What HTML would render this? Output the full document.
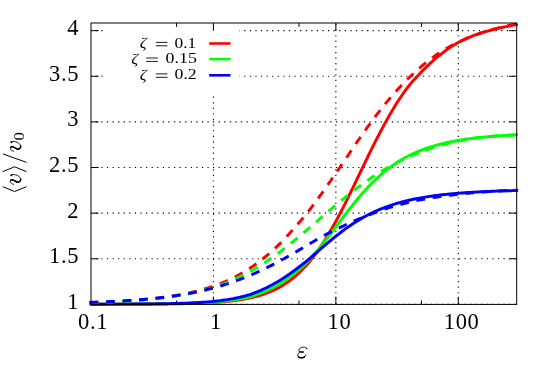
<!DOCTYPE html>
<html><head><meta charset="utf-8"><title>plot</title>
<style>html,body{margin:0;padding:0;background:#fff}svg{display:block;will-change:transform}text{font-family:"Liberation Serif",serif;fill:#000}</style>
</head><body>
<svg width="548" height="366" viewBox="0 0 548 366">
<rect width="548" height="366" fill="#fff"/>
<path d="M91.00,304.40 H516.70" stroke="#000" stroke-width="1.1" stroke-dasharray="1.2 4.386" stroke-dashoffset="0.85" fill="none"/>
<path d="M91.00,258.77 H516.70" stroke="#000" stroke-width="1.1" stroke-dasharray="1.2 4.386" stroke-dashoffset="0.85" fill="none"/>
<path d="M91.00,213.15 H516.70" stroke="#000" stroke-width="1.1" stroke-dasharray="1.2 4.386" stroke-dashoffset="0.85" fill="none"/>
<path d="M91.00,167.52 H516.70" stroke="#000" stroke-width="1.1" stroke-dasharray="1.2 4.386" stroke-dashoffset="0.85" fill="none"/>
<path d="M91.00,121.90 H516.70" stroke="#000" stroke-width="1.1" stroke-dasharray="1.2 4.386" stroke-dashoffset="0.85" fill="none"/>
<path d="M91.00,76.27 H104.00" stroke="#000" stroke-width="1.1" stroke-dasharray="1.2 4.386" stroke-dashoffset="0.85" fill="none"/>
<path d="M239.50,76.27 H516.70" stroke="#000" stroke-width="1.1" stroke-dasharray="1.2 4.386" stroke-dashoffset="0.85" fill="none"/>
<path d="M91.00,30.65 H104.00" stroke="#000" stroke-width="1.1" stroke-dasharray="1.2 4.386" stroke-dashoffset="0.85" fill="none"/>
<path d="M239.50,30.65 H516.70" stroke="#000" stroke-width="1.1" stroke-dasharray="1.2 4.386" stroke-dashoffset="0.85" fill="none"/>
<path d="M213.43,304.40 V95.50" stroke="#000" stroke-width="1.1" stroke-dasharray="1.2 4.386" stroke-dashoffset="0.1" fill="none"/>
<path d="M335.86,304.40 V23.00" stroke="#000" stroke-width="1.1" stroke-dasharray="1.2 4.386" stroke-dashoffset="0.1" fill="none"/>
<path d="M458.29,304.40 V23.00" stroke="#000" stroke-width="1.1" stroke-dasharray="1.2 4.386" stroke-dashoffset="0.1" fill="none"/>
<path d="M91.00,258.77 h7.70 M516.70,258.77 h-7.70 M91.00,213.15 h7.70 M516.70,213.15 h-7.70 M91.00,167.52 h7.70 M516.70,167.52 h-7.70 M91.00,121.90 h7.70 M516.70,121.90 h-7.70 M91.00,76.27 h7.70 M516.70,76.27 h-7.70 M91.00,30.65 h7.70 M516.70,30.65 h-7.70 M213.43,304.40 v-7.70 M213.43,23.00 v7.70 M335.86,304.40 v-7.70 M335.86,23.00 v7.70 M458.29,304.40 v-7.70 M458.29,23.00 v7.70 M176.57,304.40 v-3.90 M176.57,23.00 v3.90 M299.00,304.40 v-3.90 M299.00,23.00 v3.90 M421.43,304.40 v-3.90 M421.43,23.00 v3.90" stroke="#000" stroke-width="1" fill="none"/>
<path d="M91.00,304.18 L92.50,304.18 L94.00,304.18 L95.50,304.18 L97.00,304.18 L98.49,304.18 L99.99,304.18 L101.49,304.17 L102.99,304.17 L104.49,304.17 L105.99,304.17 L107.49,304.17 L108.99,304.17 L110.49,304.16 L111.99,304.16 L113.48,304.16 L114.98,304.16 L116.48,304.15 L117.98,304.15 L119.48,304.15 L120.98,304.15 L122.48,304.14 L123.98,304.14 L125.48,304.14 L126.97,304.13 L128.47,304.13 L129.97,304.12 L131.47,304.12 L132.97,304.11 L134.47,304.11 L135.97,304.10 L137.47,304.10 L138.97,304.09 L140.47,304.09 L141.96,304.08 L143.46,304.07 L144.96,304.07 L146.46,304.06 L147.96,304.05 L149.46,304.04 L150.96,304.03 L152.46,304.02 L153.96,304.01 L155.45,304.00 L156.95,303.99 L158.45,303.98 L159.95,303.97 L161.45,303.95 L162.95,303.94 L164.45,303.92 L165.95,303.91 L167.45,303.89 L168.95,303.87 L170.44,303.86 L171.94,303.84 L173.44,303.81 L174.94,303.79 L176.44,303.77 L177.94,303.74 L179.44,303.72 L180.94,303.69 L182.44,303.66 L183.93,303.63 L185.43,303.60 L186.93,303.57 L188.43,303.53 L189.93,303.49 L191.43,303.45 L192.93,303.41 L194.43,303.36 L195.93,303.32 L197.43,303.27 L198.92,303.21 L200.42,303.16 L201.92,303.10 L203.42,303.04 L204.92,302.97 L206.42,302.90 L207.92,302.83 L209.42,302.75 L210.92,302.67 L212.41,302.58 L213.91,302.49 L215.41,302.39 L216.91,302.29 L218.41,302.19 L219.91,302.07 L221.41,301.96 L222.91,301.83 L224.41,301.70 L225.90,301.56 L227.40,301.41 L228.90,301.26 L230.40,301.09 L231.90,300.92 L233.40,300.74 L234.90,300.55 L236.40,300.35 L237.90,300.14 L239.40,299.92 L240.89,299.68 L242.39,299.43 L243.89,299.17 L245.39,298.90 L246.89,298.61 L248.39,298.31 L249.89,297.99 L251.39,297.66 L252.89,297.31 L254.38,296.94 L255.88,296.55 L257.38,296.14 L258.88,295.71 L260.38,295.26 L261.88,294.79 L263.38,294.30 L264.88,293.78 L266.38,293.23 L267.88,292.66 L269.37,292.07 L270.87,291.44 L272.37,290.78 L273.87,290.10 L275.37,289.38 L276.87,288.63 L278.37,287.84 L279.87,287.02 L281.37,286.16 L282.86,285.26 L284.36,284.33 L285.86,283.35 L287.36,282.33 L288.86,281.27 L290.36,280.17 L291.86,279.01 L293.36,277.82 L294.86,276.57 L296.36,275.28 L297.85,273.93 L299.35,272.53 L300.85,271.09 L302.35,269.58 L303.85,268.03 L305.35,266.42 L306.85,264.75 L308.35,263.03 L309.85,261.25 L311.34,259.41 L312.84,257.51 L314.34,255.56 L315.84,253.55 L317.34,251.48 L318.84,249.35 L320.34,247.16 L321.84,244.92 L323.34,242.62 L324.84,240.26 L326.33,237.85 L327.83,235.38 L329.33,232.86 L330.83,230.29 L332.33,227.67 L333.83,225.00 L335.33,222.28 L336.83,219.52 L338.33,216.71 L339.82,213.86 L341.32,210.98 L342.82,208.06 L344.32,205.11 L345.82,202.12 L347.32,199.11 L348.82,196.07 L350.32,193.02 L351.82,189.94 L353.32,186.85 L354.81,183.74 L356.31,180.63 L357.81,177.51 L359.31,174.38 L360.81,171.26 L362.31,168.14 L363.81,165.03 L365.31,161.92 L366.81,158.83 L368.30,155.75 L369.80,152.69 L371.30,149.65 L372.80,146.63 L374.30,143.64 L375.80,140.67 L377.30,137.74 L378.80,134.84 L380.30,131.97 L381.80,129.14 L383.29,126.34 L384.79,123.58 L386.29,120.87 L387.79,118.19 L389.29,115.56 L390.79,112.98 L392.29,110.43 L393.79,107.94 L395.29,105.49 L396.78,103.09 L398.28,100.76 L399.78,98.48 L401.28,96.27 L402.78,94.11 L404.28,92.00 L405.78,89.95 L407.28,87.96 L408.78,86.01 L410.28,84.11 L411.77,82.31 L413.27,80.60 L414.77,78.96 L416.27,77.36 L417.77,75.78 L419.27,74.19 L420.77,72.59 L422.27,71.01 L423.77,69.47 L425.26,67.97 L426.76,66.50 L428.26,65.07 L429.76,63.68 L431.26,62.33 L432.76,61.00 L434.26,59.71 L435.76,58.45 L437.26,57.20 L438.75,55.96 L440.25,54.74 L441.75,53.55 L443.25,52.39 L444.75,51.26 L446.25,50.17 L447.75,49.11 L449.25,48.08 L450.75,47.07 L452.25,46.09 L453.74,45.15 L455.24,44.24 L456.74,43.37 L458.24,42.55 L459.74,41.77 L461.24,41.01 L462.74,40.27 L464.24,39.55 L465.74,38.86 L467.23,38.19 L468.73,37.54 L470.23,36.92 L471.73,36.31 L473.23,35.72 L474.73,35.15 L476.23,34.60 L477.73,34.07 L479.23,33.57 L480.73,33.08 L482.22,32.62 L483.72,32.17 L485.22,31.73 L486.72,31.30 L488.22,30.88 L489.72,30.47 L491.22,30.07 L492.72,29.68 L494.22,29.30 L495.71,28.93 L497.21,28.57 L498.71,28.22 L500.21,27.88 L501.71,27.54 L503.21,27.21 L504.71,26.89 L506.21,26.58 L507.71,26.27 L509.21,25.98 L510.70,25.70 L512.20,25.42 L513.70,25.15 L515.20,24.89 L516.70,24.64" fill="none" stroke="#ff0000" stroke-width="2.95" stroke-linejoin="round" stroke-linecap="round"/>
<path d="M91.00,304.18 L92.50,304.18 L94.00,304.18 L95.50,304.17 L97.00,304.17 L98.49,304.17 L99.99,304.17 L101.49,304.17 L102.99,304.17 L104.49,304.16 L105.99,304.16 L107.49,304.16 L108.99,304.16 L110.49,304.16 L111.99,304.15 L113.48,304.15 L114.98,304.15 L116.48,304.14 L117.98,304.14 L119.48,304.14 L120.98,304.13 L122.48,304.13 L123.98,304.13 L125.48,304.12 L126.97,304.12 L128.47,304.11 L129.97,304.11 L131.47,304.10 L132.97,304.10 L134.47,304.09 L135.97,304.09 L137.47,304.08 L138.97,304.07 L140.47,304.06 L141.96,304.06 L143.46,304.05 L144.96,304.04 L146.46,304.03 L147.96,304.02 L149.46,304.01 L150.96,304.00 L152.46,303.99 L153.96,303.98 L155.45,303.96 L156.95,303.95 L158.45,303.93 L159.95,303.92 L161.45,303.90 L162.95,303.89 L164.45,303.87 L165.95,303.85 L167.45,303.83 L168.95,303.81 L170.44,303.79 L171.94,303.76 L173.44,303.74 L174.94,303.71 L176.44,303.68 L177.94,303.65 L179.44,303.62 L180.94,303.59 L182.44,303.55 L183.93,303.52 L185.43,303.48 L186.93,303.44 L188.43,303.39 L189.93,303.35 L191.43,303.30 L192.93,303.25 L194.43,303.20 L195.93,303.14 L197.43,303.08 L198.92,303.02 L200.42,302.95 L201.92,302.88 L203.42,302.80 L204.92,302.73 L206.42,302.64 L207.92,302.56 L209.42,302.46 L210.92,302.37 L212.41,302.26 L213.91,302.16 L215.41,302.04 L216.91,301.92 L218.41,301.79 L219.91,301.66 L221.41,301.52 L222.91,301.37 L224.41,301.22 L225.90,301.05 L227.40,300.88 L228.90,300.69 L230.40,300.50 L231.90,300.30 L233.40,300.09 L234.90,299.86 L236.40,299.63 L237.90,299.38 L239.40,299.12 L240.89,298.85 L242.39,298.56 L243.89,298.26 L245.39,297.94 L246.89,297.60 L248.39,297.25 L249.89,296.89 L251.39,296.44 L252.89,295.96 L254.38,295.48 L255.88,294.97 L257.38,294.44 L258.88,293.90 L260.38,293.33 L261.88,292.75 L263.38,292.14 L264.88,291.51 L266.38,290.86 L267.88,290.19 L269.37,289.49 L270.87,288.77 L272.37,288.02 L273.87,287.24 L275.37,286.43 L276.87,285.59 L278.37,284.71 L279.87,283.81 L281.37,282.88 L282.86,281.91 L284.36,280.92 L285.86,279.90 L287.36,278.85 L288.86,277.78 L290.36,276.68 L291.86,275.55 L293.36,274.39 L294.86,273.19 L296.36,271.95 L297.85,270.67 L299.35,269.35 L300.85,267.98 L302.35,266.58 L303.85,265.14 L305.35,263.67 L306.85,262.16 L308.35,260.62 L309.85,259.04 L311.34,257.42 L312.84,255.77 L314.34,254.08 L315.84,252.35 L317.34,250.59 L318.84,248.79 L320.34,246.95 L321.84,245.09 L323.34,243.20 L324.84,241.30 L326.33,239.38 L327.83,237.44 L329.33,235.49 L330.83,233.52 L332.33,231.55 L333.83,229.57 L335.33,227.58 L336.83,225.60 L338.33,223.61 L339.82,221.62 L341.32,219.64 L342.82,217.67 L344.32,215.70 L345.82,213.74 L347.32,211.80 L348.82,209.87 L350.32,207.96 L351.82,206.07 L353.32,204.19 L354.81,202.34 L356.31,200.51 L357.81,198.71 L359.31,196.93 L360.81,195.18 L362.31,193.46 L363.81,191.76 L365.31,190.10 L366.81,188.46 L368.30,186.86 L369.80,185.29 L371.30,183.76 L372.80,182.25 L374.30,180.78 L375.80,179.34 L377.30,177.94 L378.80,176.57 L380.30,175.23 L381.80,173.93 L383.29,172.66 L384.79,171.42 L386.29,170.21 L387.79,169.04 L389.29,167.90 L390.79,166.79 L392.29,165.71 L393.79,164.67 L395.29,163.65 L396.78,162.66 L398.28,161.71 L399.78,160.78 L401.28,159.87 L402.78,159.00 L404.28,158.15 L405.78,157.33 L407.28,156.54 L408.78,155.76 L410.28,155.02 L411.77,154.29 L413.27,153.59 L414.77,152.92 L416.27,152.26 L417.77,151.62 L419.27,151.01 L420.77,150.41 L422.27,149.84 L423.77,149.28 L425.26,148.74 L426.76,148.22 L428.26,147.71 L429.76,147.23 L431.26,146.75 L432.76,146.30 L434.26,145.86 L435.76,145.43 L437.26,145.01 L438.75,144.62 L440.25,144.23 L441.75,143.85 L443.25,143.49 L444.75,143.14 L446.25,142.80 L447.75,142.48 L449.25,142.16 L450.75,141.85 L452.25,141.56 L453.74,141.27 L455.24,140.99 L456.74,140.72 L458.24,140.46 L459.74,140.21 L461.24,139.97 L462.74,139.73 L464.24,139.51 L465.74,139.29 L467.23,139.07 L468.73,138.87 L470.23,138.67 L471.73,138.47 L473.23,138.28 L474.73,138.10 L476.23,137.93 L477.73,137.76 L479.23,137.59 L480.73,137.43 L482.22,137.28 L483.72,137.13 L485.22,136.98 L486.72,136.84 L488.22,136.71 L489.72,136.57 L491.22,136.45 L492.72,136.32 L494.22,136.20 L495.71,136.09 L497.21,135.97 L498.71,135.86 L500.21,135.76 L501.71,135.66 L503.21,135.56 L504.71,135.46 L506.21,135.37 L507.71,135.28 L509.21,135.19 L510.70,135.10 L512.20,135.02 L513.70,134.94 L515.20,134.86 L516.70,134.79" fill="none" stroke="#00ff00" stroke-width="2.95" stroke-linejoin="round" stroke-linecap="round"/>
<path d="M91.00,304.17 L92.50,304.17 L94.00,304.17 L95.50,304.16 L97.00,304.16 L98.49,304.16 L99.99,304.16 L101.49,304.15 L102.99,304.15 L104.49,304.15 L105.99,304.15 L107.49,304.14 L108.99,304.14 L110.49,304.14 L111.99,304.13 L113.48,304.13 L114.98,304.12 L116.48,304.12 L117.98,304.11 L119.48,304.11 L120.98,304.10 L122.48,304.10 L123.98,304.09 L125.48,304.09 L126.97,304.08 L128.47,304.07 L129.97,304.07 L131.47,304.06 L132.97,304.05 L134.47,304.04 L135.97,304.03 L137.47,304.02 L138.97,304.01 L140.47,304.00 L141.96,303.99 L143.46,303.98 L144.96,303.97 L146.46,303.95 L147.96,303.94 L149.46,303.92 L150.96,303.91 L152.46,303.89 L153.96,303.87 L155.45,303.86 L156.95,303.84 L158.45,303.82 L159.95,303.79 L161.45,303.77 L162.95,303.75 L164.45,303.72 L165.95,303.69 L167.45,303.66 L168.95,303.63 L170.44,303.60 L171.94,303.57 L173.44,303.53 L174.94,303.50 L176.44,303.46 L177.94,303.41 L179.44,303.37 L180.94,303.32 L182.44,303.27 L183.93,303.22 L185.43,303.17 L186.93,303.11 L188.43,303.05 L189.93,302.98 L191.43,302.92 L192.93,302.84 L194.43,302.77 L195.93,302.69 L197.43,302.61 L198.92,302.52 L200.42,302.42 L201.92,302.33 L203.42,302.22 L204.92,302.12 L206.42,302.00 L207.92,301.88 L209.42,301.75 L210.92,301.62 L212.41,301.48 L213.91,301.33 L215.41,301.18 L216.91,301.02 L218.41,300.85 L219.91,300.67 L221.41,300.48 L222.91,300.28 L224.41,300.07 L225.90,299.85 L227.40,299.62 L228.90,299.38 L230.40,299.13 L231.90,298.86 L233.40,298.59 L234.90,298.30 L236.40,297.99 L237.90,297.67 L239.40,297.34 L240.89,296.99 L242.39,296.63 L243.89,296.25 L245.39,295.85 L246.89,295.44 L248.39,295.00 L249.89,294.55 L251.39,294.04 L252.89,293.50 L254.38,292.95 L255.88,292.37 L257.38,291.78 L258.88,291.16 L260.38,290.53 L261.88,289.88 L263.38,289.20 L264.88,288.51 L266.38,287.79 L267.88,287.06 L269.37,286.30 L270.87,285.53 L272.37,284.73 L273.87,283.91 L275.37,283.08 L276.87,282.22 L278.37,281.33 L279.87,280.42 L281.37,279.49 L282.86,278.53 L284.36,277.55 L285.86,276.54 L287.36,275.51 L288.86,274.46 L290.36,273.38 L291.86,272.30 L293.36,271.21 L294.86,270.11 L296.36,269.00 L297.85,267.88 L299.35,266.74 L300.85,265.59 L302.35,264.43 L303.85,263.24 L305.35,262.04 L306.85,260.82 L308.35,259.57 L309.85,258.31 L311.34,257.02 L312.84,255.74 L314.34,254.44 L315.84,253.15 L317.34,251.85 L318.84,250.56 L320.34,249.26 L321.84,247.97 L323.34,246.68 L324.84,245.40 L326.33,244.12 L327.83,242.86 L329.33,241.60 L330.83,240.35 L332.33,239.12 L333.83,237.89 L335.33,236.68 L336.83,235.49 L338.33,234.31 L339.82,233.15 L341.32,232.00 L342.82,230.87 L344.32,229.76 L345.82,228.67 L347.32,227.60 L348.82,226.54 L350.32,225.51 L351.82,224.50 L353.32,223.51 L354.81,222.54 L356.31,221.59 L357.81,220.66 L359.31,219.75 L360.81,218.87 L362.31,218.00 L363.81,217.16 L365.31,216.33 L366.81,215.53 L368.30,214.75 L369.80,213.99 L371.30,213.25 L372.80,212.53 L374.30,211.82 L375.80,211.14 L377.30,210.48 L378.80,209.83 L380.30,209.21 L381.80,208.60 L383.29,208.01 L384.79,207.43 L386.29,206.88 L387.79,206.33 L389.29,205.81 L390.79,205.30 L392.29,204.81 L393.79,204.33 L395.29,203.87 L396.78,203.42 L398.28,202.98 L399.78,202.56 L401.28,202.15 L402.78,201.75 L404.28,201.37 L405.78,200.99 L407.28,200.63 L408.78,200.28 L410.28,199.94 L411.77,199.61 L413.27,199.30 L414.77,198.99 L416.27,198.69 L417.77,198.40 L419.27,198.12 L420.77,197.85 L422.27,197.59 L423.77,197.33 L425.26,197.09 L426.76,196.85 L428.26,196.62 L429.76,196.39 L431.26,196.18 L432.76,195.97 L434.26,195.76 L435.76,195.57 L437.26,195.38 L438.75,195.19 L440.25,195.01 L441.75,194.84 L443.25,194.67 L444.75,194.51 L446.25,194.35 L447.75,194.20 L449.25,194.05 L450.75,193.91 L452.25,193.77 L453.74,193.63 L455.24,193.50 L456.74,193.37 L458.24,193.25 L459.74,193.13 L461.24,193.02 L462.74,192.91 L464.24,192.80 L465.74,192.69 L467.23,192.59 L468.73,192.49 L470.23,192.40 L471.73,192.30 L473.23,192.21 L474.73,192.12 L476.23,192.04 L477.73,191.96 L479.23,191.88 L480.73,191.80 L482.22,191.73 L483.72,191.65 L485.22,191.58 L486.72,191.51 L488.22,191.45 L489.72,191.38 L491.22,191.32 L492.72,191.26 L494.22,191.20 L495.71,191.14 L497.21,191.09 L498.71,191.03 L500.21,190.98 L501.71,190.93 L503.21,190.88 L504.71,190.83 L506.21,190.79 L507.71,190.74 L509.21,190.70 L510.70,190.66 L512.20,190.62 L513.70,190.58 L515.20,190.54 L516.70,190.50" fill="none" stroke="#0000ff" stroke-width="2.95" stroke-linejoin="round" stroke-linecap="round"/>
<path d="M91.00,302.49 L92.50,302.44 L94.00,302.39 L95.50,302.33 L97.00,302.28 L98.49,302.22 L99.99,302.17 L101.49,302.11 L102.99,302.05 L104.49,301.99 L105.99,301.92 L107.49,301.86 L108.99,301.79 L110.49,301.72 L111.99,301.65 L113.48,301.57 L114.98,301.50 L116.48,301.42 L117.98,301.34 L119.48,301.25 L120.98,301.17 L122.48,301.08 L123.98,300.99 L125.48,300.89 L126.97,300.80 L128.47,300.70 L129.97,300.60 L131.47,300.49 L132.97,300.38 L134.47,300.27 L135.97,300.16 L137.47,300.04 L138.97,299.92 L140.47,299.79 L141.96,299.66 L143.46,299.53 L144.96,299.39 L146.46,299.25 L147.96,299.11 L149.46,298.96 L150.96,298.80 L152.46,298.65 L153.96,298.48 L155.45,298.32 L156.95,298.14 L158.45,297.96 L159.95,297.78 L161.45,297.59 L162.95,297.40 L164.45,297.20 L165.95,296.99 L167.45,296.78 L168.95,296.56 L170.44,296.34 L171.94,296.11 L173.44,295.87 L174.94,295.62 L176.44,295.37 L177.94,295.11 L179.44,294.84 L180.94,294.56 L182.44,294.28 L183.93,293.99 L185.43,293.69 L186.93,293.38 L188.43,293.06 L189.93,292.73 L191.43,292.39 L192.93,292.04 L194.43,291.68 L195.93,291.32 L197.43,290.94 L198.92,290.55 L200.42,290.14 L201.92,289.73 L203.42,289.30 L204.92,288.87 L206.42,288.42 L207.92,287.95 L209.42,287.48 L210.92,286.99 L212.41,286.48 L213.91,285.96 L215.41,285.43 L216.91,284.88 L218.41,284.32 L219.91,283.74 L221.41,283.14 L222.91,282.53 L224.41,281.90 L225.90,281.26 L227.40,280.59 L228.90,279.91 L230.40,279.21 L231.90,278.49 L233.40,277.76 L234.90,277.00 L236.40,276.22 L237.90,275.43 L239.40,274.61 L240.89,273.77 L242.39,272.91 L243.89,272.03 L245.39,271.12 L246.89,270.20 L248.39,269.25 L249.89,268.28 L251.39,267.28 L252.89,266.26 L254.38,265.22 L255.88,264.15 L257.38,263.06 L258.88,261.95 L260.38,260.80 L261.88,259.64 L263.38,258.44 L264.88,257.23 L266.38,255.98 L267.88,254.71 L269.37,253.42 L270.87,252.09 L272.37,250.74 L273.87,249.37 L275.37,247.97 L276.87,246.54 L278.37,245.08 L279.87,243.60 L281.37,242.09 L282.86,240.56 L284.36,239.00 L285.86,237.41 L287.36,235.80 L288.86,234.16 L290.36,232.50 L291.86,230.81 L293.36,229.09 L294.86,227.35 L296.36,225.70 L297.85,224.04 L299.35,222.35 L300.85,220.64 L302.35,218.89 L303.85,217.12 L305.35,215.30 L306.85,213.45 L308.35,211.55 L309.85,209.61 L311.34,207.63 L312.84,205.63 L314.34,203.62 L315.84,201.58 L317.34,199.54 L318.84,197.47 L320.34,195.40 L321.84,193.31 L323.34,191.20 L324.84,189.09 L326.33,186.96 L327.83,184.83 L329.33,182.68 L330.83,180.53 L332.33,178.37 L333.83,176.20 L335.33,174.03 L336.83,171.85 L338.33,169.67 L339.82,167.49 L341.32,165.30 L342.82,163.10 L344.32,160.88 L345.82,158.66 L347.32,156.43 L348.82,154.20 L350.32,151.97 L351.82,149.74 L353.32,147.52 L354.81,145.30 L356.31,143.10 L357.81,140.92 L359.31,138.75 L360.81,136.61 L362.31,134.47 L363.81,132.35 L365.31,130.24 L366.81,128.14 L368.30,126.06 L369.80,123.99 L371.30,121.95 L372.80,119.92 L374.30,117.91 L375.80,115.93 L377.30,113.97 L378.80,112.03 L380.30,110.11 L381.80,108.22 L383.29,106.35 L384.79,104.49 L386.29,102.66 L387.79,100.85 L389.29,99.07 L390.79,97.30 L392.29,95.56 L393.79,93.84 L395.29,92.14 L396.78,90.47 L398.28,88.82 L399.78,87.19 L401.28,85.59 L402.78,84.01 L404.28,82.45 L405.78,80.92 L407.28,79.42 L408.78,77.93 L410.28,76.47 L411.77,75.04 L413.27,73.63 L414.77,72.24 L416.27,70.88 L417.77,69.54 L419.27,68.23 L420.77,66.94 L422.27,65.67 L423.77,64.42 L425.26,63.20 L426.76,62.01 L428.26,60.83 L429.76,59.68 L431.26,58.55 L432.76,57.44 L434.26,56.36 L435.76,55.29 L437.26,54.25 L438.75,53.23 L440.25,52.23 L441.75,51.26 L443.25,50.32 L444.75,49.41 L446.25,48.53 L447.75,47.67 L449.25,46.84 L450.75,46.02 L452.25,45.23 L453.74,44.46 L455.24,43.71 L456.74,42.97 L458.24,42.24 L459.74,41.53 L461.24,40.83 L462.74,40.15 L464.24,39.48 L465.74,38.83 L467.23,38.20 L468.73,37.58 L470.23,36.98 L471.73,36.39 L473.23,35.81 L474.73,35.24 L476.23,34.69 L477.73,34.15 L479.23,33.63 L480.73,33.11 L482.22,32.60 L483.72,32.11 L485.22,31.63 L486.72,31.16 L488.22,30.70 L489.72,30.25 L491.22,29.82 L492.72,29.39 L494.22,28.97 L495.71,28.57 L497.21,28.17 L498.71,27.79 L500.21,27.41 L501.71,27.04 L503.21,26.69 L504.71,26.34 L506.21,26.00 L507.71,25.67 L509.21,25.35 L510.70,25.03 L512.20,24.72 L513.70,24.43 L515.20,24.13 L516.70,23.85" fill="none" stroke="#ff0000" stroke-width="2.95" stroke-dasharray="5.85 10.67" stroke-linecap="square" stroke-linejoin="round"/>
<path d="M91.00,302.69 L92.50,302.64 L94.00,302.60 L95.50,302.55 L97.00,302.50 L98.49,302.45 L99.99,302.40 L101.49,302.34 L102.99,302.29 L104.49,302.23 L105.99,302.17 L107.49,302.11 L108.99,302.05 L110.49,301.99 L111.99,301.92 L113.48,301.86 L114.98,301.79 L116.48,301.71 L117.98,301.64 L119.48,301.56 L120.98,301.48 L122.48,301.40 L123.98,301.32 L125.48,301.23 L126.97,301.14 L128.47,301.05 L129.97,300.96 L131.47,300.86 L132.97,300.76 L134.47,300.66 L135.97,300.55 L137.47,300.44 L138.97,300.33 L140.47,300.21 L141.96,300.09 L143.46,299.97 L144.96,299.84 L146.46,299.71 L147.96,299.57 L149.46,299.43 L150.96,299.29 L152.46,299.14 L153.96,298.99 L155.45,298.83 L156.95,298.67 L158.45,298.50 L159.95,298.33 L161.45,298.15 L162.95,297.97 L164.45,297.78 L165.95,297.58 L167.45,297.38 L168.95,297.18 L170.44,296.97 L171.94,296.75 L173.44,296.52 L174.94,296.29 L176.44,296.05 L177.94,295.80 L179.44,295.55 L180.94,295.29 L182.44,295.02 L183.93,294.74 L185.43,294.46 L186.93,294.17 L188.43,293.87 L189.93,293.56 L191.43,293.24 L192.93,292.91 L194.43,292.57 L195.93,292.22 L197.43,291.87 L198.92,291.50 L200.42,291.12 L201.92,290.74 L203.42,290.34 L204.92,289.93 L206.42,289.51 L207.92,289.08 L209.42,288.64 L210.92,288.18 L212.41,287.72 L213.91,287.24 L215.41,286.75 L216.91,286.24 L218.41,285.73 L219.91,285.20 L221.41,284.66 L222.91,284.10 L224.41,283.53 L225.90,282.95 L227.40,282.35 L228.90,281.74 L230.40,281.11 L231.90,280.47 L233.40,279.82 L234.90,279.15 L236.40,278.46 L237.90,277.76 L239.40,277.05 L240.89,276.32 L242.39,275.57 L243.89,274.81 L245.39,274.04 L246.89,273.24 L248.39,272.44 L249.89,271.61 L251.39,270.78 L252.89,269.92 L254.38,269.05 L255.88,268.17 L257.38,267.27 L258.88,266.35 L260.38,265.42 L261.88,264.47 L263.38,263.51 L264.88,262.53 L266.38,261.54 L267.88,260.53 L269.37,259.51 L270.87,258.48 L272.37,257.43 L273.87,256.36 L275.37,255.28 L276.87,254.19 L278.37,253.09 L279.87,251.97 L281.37,250.84 L282.86,249.70 L284.36,248.55 L285.86,247.38 L287.36,246.20 L288.86,245.02 L290.36,243.82 L291.86,242.61 L293.36,241.40 L294.86,240.17 L296.36,238.94 L297.85,237.69 L299.35,236.44 L300.85,235.19 L302.35,233.92 L303.85,232.65 L305.35,231.38 L306.85,230.10 L308.35,228.82 L309.85,227.53 L311.34,226.24 L312.84,224.94 L314.34,223.65 L315.84,222.35 L317.34,221.05 L318.84,219.75 L320.34,218.45 L321.84,217.15 L323.34,215.85 L324.84,214.56 L326.33,213.26 L327.83,211.97 L329.33,210.68 L330.83,209.40 L332.33,208.12 L333.83,206.85 L335.33,205.58 L336.83,204.31 L338.33,203.06 L339.82,201.81 L341.32,200.56 L342.82,199.33 L344.32,198.10 L345.82,196.88 L347.32,195.67 L348.82,194.47 L350.32,193.28 L351.82,192.10 L353.32,190.94 L354.81,189.78 L356.31,188.63 L357.81,187.49 L359.31,186.37 L360.81,185.26 L362.31,184.16 L363.81,183.07 L365.31,181.99 L366.81,180.93 L368.30,179.88 L369.80,178.85 L371.30,177.83 L372.80,176.82 L374.30,175.82 L375.80,174.84 L377.30,173.88 L378.80,172.92 L380.30,171.98 L381.80,171.06 L383.29,170.15 L384.79,169.25 L386.29,168.37 L387.79,167.50 L389.29,166.65 L390.79,165.81 L392.29,164.99 L393.79,164.18 L395.29,163.38 L396.78,162.60 L398.28,161.83 L399.78,161.07 L401.28,160.33 L402.78,159.61 L404.28,158.89 L405.78,158.19 L407.28,157.51 L408.78,156.83 L410.28,156.17 L411.77,155.53 L413.27,154.89 L414.77,154.27 L416.27,153.66 L417.77,153.07 L419.27,152.49 L420.77,151.91 L422.27,151.36 L423.77,150.81 L425.26,150.27 L426.76,149.75 L428.26,149.24 L429.76,148.74 L431.26,148.25 L432.76,147.77 L434.26,147.30 L435.76,146.84 L437.26,146.39 L438.75,145.95 L440.25,145.53 L441.75,145.11 L443.25,144.70 L444.75,144.30 L446.25,143.91 L447.75,143.53 L449.25,143.16 L450.75,142.80 L452.25,142.45 L453.74,142.10 L455.24,141.76 L456.74,141.44 L458.24,141.12 L459.74,140.81 L461.24,140.51 L462.74,140.21 L464.24,139.93 L465.74,139.65 L467.23,139.39 L468.73,139.13 L470.23,138.87 L471.73,138.63 L473.23,138.39 L474.73,138.16 L476.23,137.94 L477.73,137.74 L479.23,137.55 L480.73,137.38 L482.22,137.22 L483.72,137.07 L485.22,136.93 L486.72,136.79 L488.22,136.66 L489.72,136.53 L491.22,136.40 L492.72,136.28 L494.22,136.17 L495.71,136.06 L497.21,135.96 L498.71,135.86 L500.21,135.77 L501.71,135.67 L503.21,135.58 L504.71,135.50 L506.21,135.41 L507.71,135.33 L509.21,135.24 L510.70,135.16 L512.20,135.09 L513.70,135.01 L515.20,134.94 L516.70,134.87" fill="none" stroke="#00ff00" stroke-width="2.95" stroke-dasharray="5.85 10.67" stroke-linecap="square" stroke-linejoin="round"/>
<path d="M91.00,302.38 L92.50,302.33 L94.00,302.27 L95.50,302.22 L97.00,302.16 L98.49,302.11 L99.99,302.05 L101.49,301.99 L102.99,301.92 L104.49,301.86 L105.99,301.79 L107.49,301.73 L108.99,301.66 L110.49,301.59 L111.99,301.51 L113.48,301.44 L114.98,301.36 L116.48,301.28 L117.98,301.20 L119.48,301.11 L120.98,301.03 L122.48,300.94 L123.98,300.85 L125.48,300.76 L126.97,300.66 L128.47,300.56 L129.97,300.46 L131.47,300.36 L132.97,300.25 L134.47,300.14 L135.97,300.03 L137.47,299.91 L138.97,299.79 L140.47,299.67 L141.96,299.55 L143.46,299.42 L144.96,299.29 L146.46,299.15 L147.96,299.01 L149.46,298.87 L150.96,298.72 L152.46,298.57 L153.96,298.42 L155.45,298.26 L156.95,298.10 L158.45,297.93 L159.95,297.76 L161.45,297.59 L162.95,297.41 L164.45,297.22 L165.95,297.04 L167.45,296.84 L168.95,296.64 L170.44,296.44 L171.94,296.23 L173.44,296.02 L174.94,295.80 L176.44,295.57 L177.94,295.34 L179.44,295.11 L180.94,294.86 L182.44,294.62 L183.93,294.36 L185.43,294.10 L186.93,293.84 L188.43,293.56 L189.93,293.28 L191.43,293.00 L192.93,292.70 L194.43,292.40 L195.93,292.10 L197.43,291.78 L198.92,291.46 L200.42,291.13 L201.92,290.80 L203.42,290.45 L204.92,290.10 L206.42,289.74 L207.92,289.38 L209.42,289.00 L210.92,288.62 L212.41,288.22 L213.91,287.82 L215.41,287.41 L216.91,287.00 L218.41,286.57 L219.91,286.13 L221.41,285.69 L222.91,285.23 L224.41,284.77 L225.90,284.30 L227.40,283.82 L228.90,283.33 L230.40,282.83 L231.90,282.32 L233.40,281.80 L234.90,281.27 L236.40,280.73 L237.90,280.18 L239.40,279.62 L240.89,279.05 L242.39,278.47 L243.89,277.88 L245.39,277.28 L246.89,276.68 L248.39,276.06 L249.89,275.43 L251.39,274.79 L252.89,274.14 L254.38,273.48 L255.88,272.82 L257.38,272.14 L258.88,271.45 L260.38,270.75 L261.88,270.05 L263.38,269.33 L264.88,268.61 L266.38,267.87 L267.88,267.13 L269.37,266.38 L270.87,265.62 L272.37,264.85 L273.87,264.08 L275.37,263.29 L276.87,262.50 L278.37,261.70 L279.87,260.89 L281.37,260.08 L282.86,259.26 L284.36,258.43 L285.86,257.60 L287.36,256.76 L288.86,255.91 L290.36,255.06 L291.86,254.21 L293.36,253.35 L294.86,252.48 L296.36,251.61 L297.85,250.74 L299.35,249.87 L300.85,248.99 L302.35,248.11 L303.85,247.23 L305.35,246.35 L306.85,245.46 L308.35,244.58 L309.85,243.69 L311.34,242.80 L312.84,241.92 L314.34,241.04 L315.84,240.16 L317.34,239.29 L318.84,238.44 L320.34,237.59 L321.84,236.76 L323.34,235.93 L324.84,235.11 L326.33,234.30 L327.83,233.49 L329.33,232.70 L330.83,231.93 L332.33,231.19 L333.83,230.46 L335.33,229.75 L336.83,229.04 L338.33,228.34 L339.82,227.64 L341.32,226.93 L342.82,226.22 L344.32,225.51 L345.82,224.80 L347.32,224.10 L348.82,223.41 L350.32,222.73 L351.82,222.05 L353.32,221.38 L354.81,220.72 L356.31,220.06 L357.81,219.42 L359.31,218.79 L360.81,218.17 L362.31,217.56 L363.81,216.96 L365.31,216.37 L366.81,215.78 L368.30,215.20 L369.80,214.62 L371.30,214.03 L372.80,213.45 L374.30,212.87 L375.80,212.30 L377.30,211.74 L378.80,211.19 L380.30,210.65 L381.80,210.12 L383.29,209.60 L384.79,209.09 L386.29,208.60 L387.79,208.12 L389.29,207.66 L390.79,207.21 L392.29,206.77 L393.79,206.34 L395.29,205.92 L396.78,205.50 L398.28,205.10 L399.78,204.71 L401.28,204.33 L402.78,203.94 L404.28,203.55 L405.78,203.17 L407.28,202.79 L408.78,202.42 L410.28,202.05 L411.77,201.69 L413.27,201.34 L414.77,201.01 L416.27,200.68 L417.77,200.37 L419.27,200.06 L420.77,199.76 L422.27,199.46 L423.77,199.17 L425.26,198.89 L426.76,198.62 L428.26,198.36 L429.76,198.11 L431.26,197.86 L432.76,197.63 L434.26,197.40 L435.76,197.17 L437.26,196.96 L438.75,196.75 L440.25,196.54 L441.75,196.34 L443.25,196.15 L444.75,195.95 L446.25,195.76 L447.75,195.56 L449.25,195.37 L450.75,195.17 L452.25,194.98 L453.74,194.80 L455.24,194.61 L456.74,194.43 L458.24,194.26 L459.74,194.09 L461.24,193.93 L462.74,193.77 L464.24,193.61 L465.74,193.46 L467.23,193.31 L468.73,193.17 L470.23,193.03 L471.73,192.89 L473.23,192.75 L474.73,192.62 L476.23,192.49 L477.73,192.37 L479.23,192.25 L480.73,192.13 L482.22,192.02 L483.72,191.91 L485.22,191.80 L486.72,191.69 L488.22,191.59 L489.72,191.49 L491.22,191.39 L492.72,191.30 L494.22,191.20 L495.71,191.11 L497.21,191.02 L498.71,190.94 L500.21,190.86 L501.71,190.80 L503.21,190.75 L504.71,190.70 L506.21,190.65 L507.71,190.60 L509.21,190.55 L510.70,190.50 L512.20,190.46 L513.70,190.42 L515.20,190.37 L516.70,190.33" fill="none" stroke="#0000ff" stroke-width="2.95" stroke-dasharray="5.85 10.67" stroke-linecap="square" stroke-linejoin="round"/>
<rect x="91.00" y="23.00" width="425.70" height="281.40" stroke="#000" stroke-width="1" fill="none"/>
<path d="M209.2,43.50 H230.5" stroke="#ff0000" stroke-width="2.6" fill="none"/>
<path d="M209.2,59.10 H230.5" stroke="#00ff00" stroke-width="2.6" fill="none"/>
<path d="M209.2,75.30 H230.5" stroke="#0000ff" stroke-width="2.6" fill="none"/>
<text x="79.3" y="308.80" font-size="22.5" text-anchor="end" letter-spacing="0.7">1</text>
<text x="79.3" y="263.17" font-size="22.5" text-anchor="end" letter-spacing="0.7">1.5</text>
<text x="79.3" y="217.55" font-size="22.5" text-anchor="end" letter-spacing="0.7">2</text>
<text x="79.3" y="171.92" font-size="22.5" text-anchor="end" letter-spacing="0.7">2.5</text>
<text x="79.3" y="126.30" font-size="22.5" text-anchor="end" letter-spacing="0.7">3</text>
<text x="79.3" y="80.67" font-size="22.5" text-anchor="end" letter-spacing="0.7">3.5</text>
<text x="79.3" y="35.05" font-size="22.5" text-anchor="end" letter-spacing="0.7">4</text>
<text x="93.15" y="328.7" font-size="22.5" text-anchor="middle" letter-spacing="0.7">0.1</text>
<text x="216.00" y="328.7" font-size="22.5" text-anchor="middle" letter-spacing="0.7">1</text>
<text x="339.40" y="328.7" font-size="22.5" text-anchor="middle" letter-spacing="0.7">10</text>
<text x="461.65" y="328.7" font-size="22.5" text-anchor="middle" letter-spacing="0.7">100</text>
<g fill="none" stroke="#000" stroke-linecap="round"><path d="M306.9,348.6 C306,347.6 304.9,347.1 303.3,347.1 C300.8,347.1 299,348.8 298.9,350.4 C298.85,351.3 299.4,351.8 300.2,351.9 C298.8,352.6 297.8,354 297.8,355.5 C297.8,357 299.3,357.8 301.6,357.8 C303.8,357.8 305.3,356.8 305.8,355.3" stroke-width="0.95"/><path d="M300.2,351.9 L303.3,351.9" stroke-width="1.5"/><path d="M298.4,356.7 C299.2,357.5 300.3,357.8 301.6,357.8 C302.8,357.8 303.8,357.5 304.6,356.9" stroke-width="1.4"/><circle cx="306.6" cy="348.5" r="0.75" fill="#000" stroke="none"/></g>
<g transform="translate(21.0,191.8) rotate(-90)">
<path d="M5.0,-17.9 L0.3,-6.4 L5.0,5.1 M20.3,-17.9 L25.0,-6.4 L20.3,5.1 M29.6,5.1 L37.7,-17.7" stroke="#000" stroke-width="1" fill="none" stroke-linecap="round"/>
<g transform="translate(7.2,0)"><path d="M0.2,-7.4 C0.6,-8.6 1.5,-10.3 2.7,-10.7 C3.8,-11 4.9,-10.2 4.85,-8.8 C4.6,-7 2.6,-5 2.4,-3.3 C2.3,-1.8 3.6,-0.3 5.1,-0.3 C7,-0.3 9.2,-2.5 9.8,-5.5 C10.2,-7.5 10.1,-9 9.5,-9.9" stroke="#000" stroke-width="0.9" fill="none" stroke-linecap="round"/><path d="M4.3,-10.2 C4.9,-9.8 4.9,-9.2 4.85,-8.8 C4.6,-7 2.6,-5 2.4,-3.3 C2.3,-1.8 3.6,-0.3 5.1,-0.3" stroke="#000" stroke-width="1.6" fill="none" stroke-linecap="round"/><circle cx="9.3" cy="-9.6" r="1.0" fill="#000"/></g>
<g transform="translate(40.3,0)"><path d="M0.2,-7.4 C0.6,-8.6 1.5,-10.3 2.7,-10.7 C3.8,-11 4.9,-10.2 4.85,-8.8 C4.6,-7 2.6,-5 2.4,-3.3 C2.3,-1.8 3.6,-0.3 5.1,-0.3 C7,-0.3 9.2,-2.5 9.8,-5.5 C10.2,-7.5 10.1,-9 9.5,-9.9" stroke="#000" stroke-width="0.9" fill="none" stroke-linecap="round"/><path d="M4.3,-10.2 C4.9,-9.8 4.9,-9.2 4.85,-8.8 C4.6,-7 2.6,-5 2.4,-3.3 C2.3,-1.8 3.6,-0.3 5.1,-0.3" stroke="#000" stroke-width="1.6" fill="none" stroke-linecap="round"/><circle cx="9.3" cy="-9.6" r="1.0" fill="#000"/></g>
<text x="51.3" y="2.5" font-size="14.5" textLength="8.3" lengthAdjust="spacingAndGlyphs">0</text>
</g>
<g transform="translate(139.70,48.00) scale(1.18,1)"><text x="0" y="0" font-size="14.5" font-style="italic">&#950;</text></g>
<path d="M155.80,42.40 h11.6 M155.80,45.80 h11.6" stroke="#000" stroke-width="0.9" fill="none"/>
<text x="174.50" y="47.70" font-size="14.5" textLength="21.70" lengthAdjust="spacingAndGlyphs">0.1</text>
<g transform="translate(131.20,63.60) scale(1.18,1)"><text x="0" y="0" font-size="14.5" font-style="italic">&#950;</text></g>
<path d="M146.20,58.00 h11.6 M146.20,61.40 h11.6" stroke="#000" stroke-width="0.9" fill="none"/>
<text x="165.60" y="63.30" font-size="14.5" textLength="31.30" lengthAdjust="spacingAndGlyphs">0.15</text>
<g transform="translate(139.70,79.50) scale(1.18,1)"><text x="0" y="0" font-size="14.5" font-style="italic">&#950;</text></g>
<path d="M155.80,73.90 h11.6 M155.80,77.30 h11.6" stroke="#000" stroke-width="0.9" fill="none"/>
<text x="174.50" y="79.20" font-size="14.5" textLength="22.20" lengthAdjust="spacingAndGlyphs">0.2</text>
</svg></body></html>
